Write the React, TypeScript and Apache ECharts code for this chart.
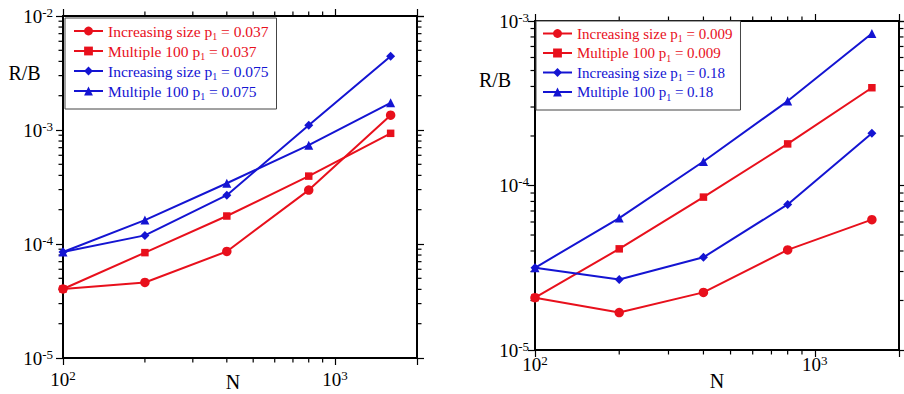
import React, { useEffect, useRef } from 'react';
import * as echarts from 'echarts';

// ---- data ----
const N = [100, 200, 400, 800, 1600];

// left panel
const leftNames = [
  'Increasing size p1 = 0.037',
  'Multiple 100 p1 = 0.037',
  'Increasing size p1 = 0.075',
  'Multiple 100 p1 = 0.075',
];
const incSize037 = [4.03e-5, 4.6e-5, 8.6e-5, 2.97e-4, 1.35e-3];
const mult037 = [4.03e-5, 8.4e-5, 1.76e-4, 3.94e-4, 9.35e-4];
const incSize075 = [8.5e-5, 1.19e-4, 2.68e-4, 1.1e-3, 4.43e-3];
const mult075 = [8.5e-5, 1.62e-4, 3.41e-4, 7.36e-4, 1.73e-3];

// right panel
const rightNames = [
  'Increasing size p1 = 0.009',
  'Multiple 100 p1 = 0.009',
  'Increasing size p1 = 0.18',
  'Multiple 100 p1 = 0.18',
];
const incSize009 = [2.08e-5, 1.69e-5, 2.24e-5, 4.06e-5, 6.2e-5];
const mult009 = [2.08e-5, 4.12e-5, 8.5e-5, 1.79e-4, 3.93e-4];
const incSize18 = [3.16e-5, 2.68e-5, 3.66e-5, 7.67e-5, 2.08e-4];
const mult18 = [3.16e-5, 6.34e-5, 1.4e-4, 3.26e-4, 8.39e-4];

// axis ranges and minor tick positions
const xRange = [100, 2000];
const leftYRange = [1e-5, 1e-2];
const rightYRange = [1e-5, 1e-3];
const xMinorTicks = [200, 300, 400, 500, 600, 700, 800, 900];
const leftYMinorTicks = [
  2e-5, 3e-5, 4e-5, 5e-5, 6e-5, 7e-5, 8e-5, 9e-5,
  2e-4, 3e-4, 4e-4, 5e-4, 6e-4, 7e-4, 8e-4, 9e-4,
  2e-3, 3e-3, 4e-3, 5e-3, 6e-3, 7e-3, 8e-3, 9e-3,
];
const rightYMinorTicks = [
  2e-5, 3e-5, 4e-5, 5e-5, 6e-5, 7e-5, 8e-5, 9e-5,
  2e-4, 3e-4, 4e-4, 5e-4, 6e-4, 7e-4, 8e-4, 9e-4,
];

const RED = '#e8101c';
const BLUE = '#1414d2';
const FONT = '"Liberation Serif", "Times New Roman", serif';

const seriesStyle = [
  { color: RED, symbol: 'circle', size: 9.5 },
  { color: RED, symbol: 'rect', size: 7.5 },
  { color: BLUE, symbol: 'diamond', size: 9 },
  { color: BLUE, symbol: 'triangle', size: 9 },
];

function expLabel(v: number) {
  const e = Math.log10(v);
  const r = Math.round(e);
  if (Math.abs(e - r) > 1e-6) return '';
  return `{m|10}{s|${r}}`;
}

const labelRich = {
  m: { fontSize: 19, lineHeight: 21, fontFamily: FONT, color: '#000' },
  s: { fontSize: 13, lineHeight: 13, verticalAlign: 'top', fontFamily: FONT, color: '#000' },
};

function legendFormatter(name: string) {
  const [pre, post] = name.split(' p1 ');
  const isRed = name.includes('0.037') || name.includes('0.009');
  const k = isRed ? 'r' : 'b';
  return `{t${k}|${pre} p}{s${k}|1}{t${k}| ${post}}`;
}

function legendRich(fs: number) {
  return {
    tr: { fontSize: fs, lineHeight: 20, color: RED, fontFamily: FONT },
    sr: { fontSize: 10, lineHeight: 8, verticalAlign: 'bottom', color: RED, fontFamily: FONT },
    tb: { fontSize: fs, lineHeight: 20, color: BLUE, fontFamily: FONT },
    sb: { fontSize: 10, lineHeight: 8, verticalAlign: 'bottom', color: BLUE, fontFamily: FONT },
  };
}

const axisLine = { show: true, onZero: false, lineStyle: { color: '#000', width: 2 } };
const axisTick = { show: true, inside: false, length: 7, lineStyle: { color: '#000', width: 1.2 } };

function xAxes(gridIndex: number, labelMargin: number, nameGap: number, namePad: number[]) {
  return [
    {
      type: 'log', logBase: 10, gridIndex, position: 'bottom',
      min: xRange[0], max: xRange[1],
      axisLine, axisTick, splitLine: { show: false },
      axisLabel: { formatter: expLabel, rich: labelRich, margin: labelMargin, fontFamily: FONT },
      name: 'N', nameLocation: 'middle', nameGap, nameMoveOverlap: false,
      nameTextStyle: { fontSize: 20, fontFamily: FONT, color: '#000', padding: namePad },
    },
    {
      type: 'log', logBase: 10, gridIndex, position: 'top',
      min: xRange[0], max: xRange[1],
      axisLine, axisTick, splitLine: { show: false }, axisLabel: { show: false },
    },
  ];
}

function yAxes(gridIndex: number, range: number[], labelMargin: number, nameGap: number, namePad: number[]) {
  return [
    {
      type: 'log', logBase: 10, gridIndex, position: 'left',
      min: range[0], max: range[1],
      axisLine, axisTick, splitLine: { show: false },
      axisLabel: { formatter: expLabel, rich: labelRich, margin: labelMargin, fontFamily: FONT },
      name: 'R/B', nameLocation: 'end', nameGap, nameMoveOverlap: false,
      nameTextStyle: { fontSize: 20, fontFamily: FONT, color: '#000', padding: namePad },
    },
    {
      type: 'log', logBase: 10, gridIndex, position: 'right',
      min: range[0], max: range[1],
      axisLine, axisTick, splitLine: { show: false }, axisLabel: { show: false },
    },
  ];
}

const MINOR_LEN = 4.5;
const tickLineStyle = { stroke: '#000', lineWidth: 1.2 };

function minorXSeries(xAxisIndex: number, yAxisIndex: number, yRange: number[]) {
  return {
    type: 'custom', xAxisIndex, yAxisIndex, silent: true, clip: false, z: 1,
    data: xMinorTicks.map((v) => [v, yRange[0]]),
    renderItem: (_p: any, api: any) => {
      const v = api.value(0);
      const a = api.coord([v, yRange[0]]);
      const b = api.coord([v, yRange[1]]);
      return {
        type: 'group',
        children: [
          { type: 'line', shape: { x1: a[0], y1: a[1], x2: a[0], y2: a[1] + MINOR_LEN }, style: tickLineStyle },
          { type: 'line', shape: { x1: b[0], y1: b[1], x2: b[0], y2: b[1] - MINOR_LEN }, style: tickLineStyle },
        ],
      };
    },
  };
}

function minorYSeries(xAxisIndex: number, yAxisIndex: number, ticks: number[]) {
  return {
    type: 'custom', xAxisIndex, yAxisIndex, silent: true, clip: false, z: 1,
    data: ticks.map((v) => [xRange[0], v]),
    renderItem: (_p: any, api: any) => {
      const v = api.value(1);
      const a = api.coord([xRange[0], v]);
      const b = api.coord([xRange[1], v]);
      return {
        type: 'group',
        children: [
          { type: 'line', shape: { x1: a[0], y1: a[1], x2: a[0] - MINOR_LEN, y2: a[1] }, style: tickLineStyle },
          { type: 'line', shape: { x1: b[0], y1: b[1], x2: b[0] + MINOR_LEN, y2: b[1] }, style: tickLineStyle },
        ],
      };
    },
  };
}

function lineSeries(names: string[], values: number[][], xAxisIndex: number, yAxisIndex: number) {
  return names.map((name, i) => ({
    type: 'line', name, xAxisIndex, yAxisIndex, z: 3,
    data: N.map((n, j) => [n, values[i][j]]),
    symbol: seriesStyle[i].symbol,
    symbolSize: seriesStyle[i].size,
    lineStyle: { width: 2, color: seriesStyle[i].color },
    itemStyle: { color: seriesStyle[i].color },
    emphasis: { disabled: true },
  }));
}

export default function App() {
  const ref = useRef<HTMLDivElement>(null);
  useEffect(() => {
    if (!ref.current) return;
    const chart = echarts.init(ref.current, null, { renderer: 'svg' });
    chart.setOption({
      animation: false,
      textStyle: { fontFamily: FONT },
      grid: [
        { left: 63, top: 16, width: 354, height: 342, outerBoundsMode: 'none' },
        { left: 535, top: 21, width: 364, height: 329, outerBoundsMode: 'none' },
      ],
      xAxis: [
        ...xAxes(0, 10.5, 14, [0, 14, 0, 0]),
        ...xAxes(1, 3.5, 20.5, [0, 0, 0, 0]),
      ],
      yAxis: [
        ...yAxes(0, leftYRange, 10, -67, [0, 77, 0, 0]),
        ...yAxes(1, rightYRange, 6, -68.5, [0, 80, 0, 0]),
      ],
      legend: [
        {
          data: leftNames, orient: 'vertical', left: 65, top: 18,
          itemWidth: 29, itemHeight: 11, itemGap: 2,
          padding: [5, 8, 8, 8],
          borderColor: '#444', borderWidth: 1, backgroundColor: '#fff',
          selectedMode: false,
          formatter: legendFormatter,
          textStyle: { fontFamily: FONT, rich: legendRich(15.5) },
        },
        {
          data: rightNames, orient: 'vertical', left: 536, top: 21,
          itemWidth: 29, itemHeight: 11, itemGap: 2,
          padding: [5, 8, 8, 6],
          borderColor: '#444', borderWidth: 1, backgroundColor: '#fff',
          selectedMode: false,
          formatter: legendFormatter,
          textStyle: { fontFamily: FONT, rich: legendRich(15) },
        },
      ],
      series: [
        ...lineSeries(leftNames, [incSize037, mult037, incSize075, mult075], 0, 0),
        ...lineSeries(rightNames, [incSize009, mult009, incSize18, mult18], 2, 2),
        minorXSeries(0, 0, leftYRange),
        minorYSeries(0, 0, leftYMinorTicks),
        minorXSeries(2, 2, rightYRange),
        minorYSeries(2, 2, rightYMinorTicks),
      ],
    });
    return () => chart.dispose();
  }, []);
  return (
    <div
      ref={ref}
      style={{ position: 'absolute', left: 0, top: 0, width: 904, height: 394, background: '#fff' }}
    />
  );
}
